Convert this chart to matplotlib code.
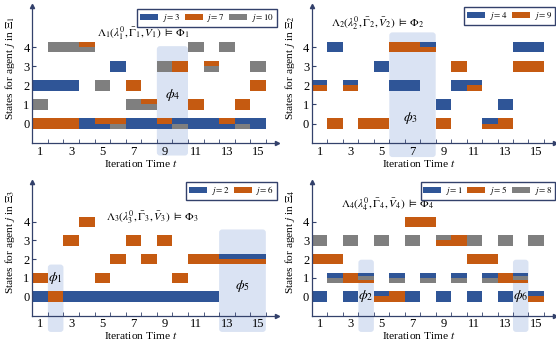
import matplotlib
matplotlib.use("Agg")
import matplotlib.pyplot as plt
from matplotlib.patches import Patch, FancyBboxPatch

plt.rcParams['font.family'] = ['Liberation Serif', 'DejaVu Serif']
plt.rcParams['mathtext.fontset'] = 'stix'

# iteration times
t = list(range(1, 16))

# states of every agent, one value per time step (None = not drawn)
# panel 1 (Xi_1)
p1_j3 = [2, 2, 2, 0, 0, 3, 0, 0, 0, 0, 0, 0, 0, 0, 0]
p1_j7 = [0, 0, 0, 4, 0, 0, 2, 1, 0, 3, 1, 3, 0, 1, 2]
p1_j10 = [1, 4, 4, 4, 2, 0, 1, 1, 3, 0, 4, 3, 4, 0, 3]
# panel 2 (Xi_2)
p2_j4 = [2, 4, 2, None, 3, 2, 2, 4, 1, 2, 2, 0, 1, 4, 4]
p2_j9 = [2, 0, 2, 0, 0, 4, 4, 4, 0, 3, 2, 0, 0, 3, 3]
# panel 3 (Xi_3)
p3_j2 = [0, None, 0, 0, 0, 0, 0, 0, 0, 0, 0, 0, 2, 2, 2]
p3_j6 = [1, 0, 3, 4, 1, 2, 3, 2, 3, 1, 2, 2, 2, 2, 2]
# panel 4 (Xi_4)
p4_j1 = [0, 1, 0, 1, 0, 1, 0, 1, 0, 1, 0, 1, 0, 1, 0]
p4_j5 = [2, 2, 1, 1, 0, 0, 4, 4, 3, 3, 2, 2, 1, 1, 0]
p4_j8 = [3, 1, 3, 1, 3, 1, 3, 1, 3, 1, 3, 1, 3, 1, 3]

# highlighted windows (t_start, t_end, y_top, label)
p1_windows = [(8.5, 10.5, 4.05, r'$\phi_4$')]
p2_windows = [(5.5, 8.5, 4.77, r'$\phi_3$')]
p3_windows = [(1.5, 2.5, 1.71, r'$\phi_1$'), (12.5, 15.5, 3.59, r'$\phi_5$')]
p4_windows = [(3.5, 4.5, 1.97, r'$\phi_2$'), (13.5, 14.5, 1.97, r'$\phi_6$')]

BLUE = '#2F5597'
ORANGE = '#C55A11'
GREY = '#7F7F7F'
HILITE = '#DAE3F3'
AXC = '#33416B'
BAR_H = 0.56

panels = [
    dict(pos=[0.0581, 0.5798, 0.4396, 0.4026], idx=1,
         agents=[('3', p1_j3, BLUE), ('7', p1_j7, ORANGE), ('10', p1_j10, GREY)],
         order=['7', '3', '10'], windows=p1_windows,
         wlab=[(9.5, 1.5)], title_xy=(7.65, 4.68), leg_y=0.975,
         ybot=-1.67),
    dict(pos=[0.5612, 0.5798, 0.4365, 0.4026], idx=2,
         agents=[('4', p2_j4, BLUE), ('9', p2_j9, ORANGE)],
         order=['4', '9'], windows=p2_windows,
         wlab=[(6.9, 0.3)], title_xy=(4.76, 5.26), leg_y=0.99,
         ybot=-1.75),
    dict(pos=[0.0581, 0.0742, 0.4396, 0.393], idx=3,
         agents=[('2', p3_j2, BLUE), ('6', p3_j6, ORANGE)],
         order=['2', '6'], windows=p3_windows,
         wlab=[(2.0, 1.0), (14.0, 0.55)], title_xy=(8.2, 4.26), leg_y=1.0,
         ybot=-1.9),
    dict(pos=[0.5612, 0.0742, 0.4365, 0.393], idx=4,
         agents=[('1', p4_j1, BLUE), ('5', p4_j5, ORANGE), ('8', p4_j8, GREY)],
         order=['1', '8', '5'], windows=p4_windows,
         wlab=[(4.0, 0.0), (14.0, 0.0)], title_xy=(5.4, 4.97), leg_y=1.0,
         ybot=-1.9),
]

fig = plt.figure(figsize=(5.56, 3.41), dpi=100)

for p in panels:
    ax = fig.add_axes(p['pos'])
    ax.set_xlim(0.5, 16.2)
    ax.set_ylim(-1.03, 6.15)

    states = {name: vals for name, vals, c in p['agents']}
    colors = {name: c for name, vals, c in p['agents']}

    # bars, split when several agents share a state
    for i, tt in enumerate(t):
        groups = {}
        for name in p['order']:
            s = states[name][i]
            if s is None:
                continue
            groups.setdefault(s, []).append(name)
        for s, names in groups.items():
            h = BAR_H / len(names)
            top = s + BAR_H / 2
            for k, name in enumerate(names):
                ax.bar(tt, h, bottom=top - (k + 1) * h, width=1.0,
                       color=colors[name], linewidth=0, zorder=2)

    # highlighted windows
    for (x0, x1, ytop, lab), (lx, ly) in zip(p['windows'], p['wlab']):
        box = FancyBboxPatch((x0, p['ybot']), x1 - x0, ytop - p['ybot'],
                             boxstyle='round,pad=0,rounding_size=0.2',
                             mutation_aspect=0.8, facecolor=HILITE,
                             edgecolor='none', zorder=0.5, clip_on=False)
        ax.add_patch(box)
        ax.text(lx, ly, lab, ha='center', va='center', fontsize=10, zorder=3)

    k = p['idx']
    ax.text(p['title_xy'][0], p['title_xy'][1],
            r'$\Lambda_%d(\lambda_%d^0,\bar{\Gamma}_%d,\bar{V}_%d)\;\vDash\;\Phi_%d$' % (k, k, k, k, k),
            ha='center', va='center', fontsize=8.2)

    # axes look
    for side in ['top', 'right']:
        ax.spines[side].set_visible(False)
    for side in ['left', 'bottom']:
        ax.spines[side].set_color(AXC)
        ax.spines[side].set_linewidth(0.9)
    ax.plot(1, 0, '>', color=AXC, ms=3, transform=ax.transAxes, clip_on=False)
    ax.plot(0, 1, '^', color=AXC, ms=3, transform=ax.transAxes, clip_on=False)

    ax.set_xticks([1, 3, 5, 7, 9, 11, 13, 15])
    ax.set_xticks([x + 0.5 for x in range(1, 16)], minor=True)
    ax.tick_params(axis='x', which='major', length=0, labelsize=9, pad=2)
    ax.tick_params(axis='x', which='minor', direction='in', length=3, color=AXC)
    ax.set_yticks([0, 1, 2, 3, 4])
    ax.tick_params(axis='y', direction='in', length=3, color=AXC, labelsize=9, pad=2)

    ax.set_xlabel(r'Iteration Time $t$', fontsize=8.2)
    ax.xaxis.set_label_coords(0.442, -0.105)
    ax.set_ylabel(r'States for agent $j$ in $\Xi_%d$' % k, fontsize=8.2)
    ax.yaxis.set_label_coords(-0.062, 0.55)

    handles = [Patch(facecolor=c, edgecolor='none', label=r'$j = %s$' % name)
               for name, vals, c in p['agents']]
    leg = ax.legend(handles=handles, ncol=len(handles), loc='upper right',
                    bbox_to_anchor=(1.0, p['leg_y']), borderaxespad=0,
                    fontsize=6.5, handlelength=2.0, handleheight=0.7,
                    handletextpad=0.4, columnspacing=0.5, borderpad=0.3,
                    fancybox=False, framealpha=1)
    leg.get_frame().set_edgecolor(AXC)
    leg.get_frame().set_linewidth(1.0)

fig.savefig('out.png', dpi=100)
